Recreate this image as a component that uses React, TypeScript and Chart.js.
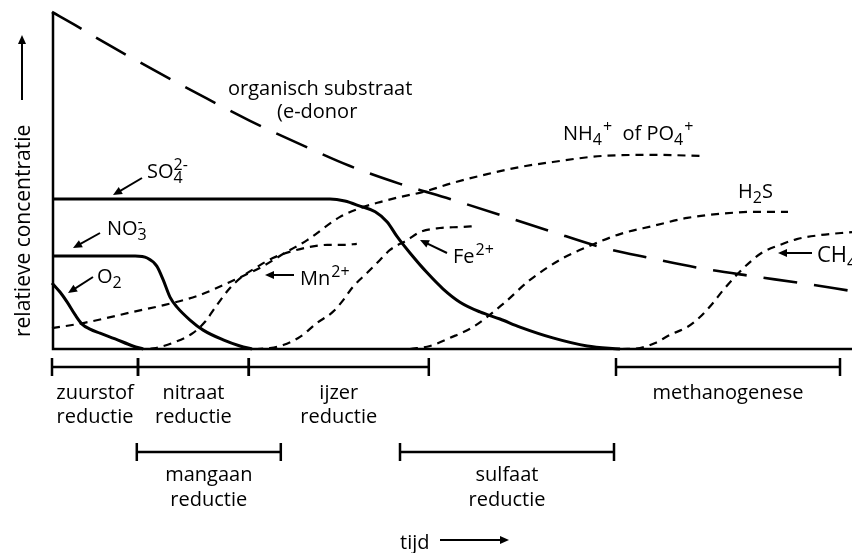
import React, { useEffect, useRef } from "react";
import { Chart, registerables } from "chart.js";

Chart.register(...registerables);

const FONT = '"Open Sans", "DejaVu Sans", sans-serif';

// ---- data (x = tijd 0..100, y = relatieve concentratie 0..100) ----
const organischX = [0, 2.9, 6, 12.25, 18.5, 24.75, 31, 37.25, 43.5, 49.75, 56, 62.25, 68.5, 74.75, 81, 87.25, 93.5, 100];
const organischY = [100, 96.1, 91.7, 83.4, 75.4, 67.7, 60.8, 54.3, 49, 44.5, 39.8, 35, 30.3, 27, 24, 21.7, 19.6, 17.2];

const so4X = [0, 34.75, 36.6, 38.5, 40.4, 41.9, 43.1, 44.75, 46.9, 48.9, 51, 53.5, 56, 58.5, 62.6, 66.9, 71];
const so4Y = [44.5, 44.5, 43.9, 42.4, 40.7, 37.7, 33.5, 28.5, 22.6, 17.8, 13.9, 11, 8.9, 6.5, 3.3, 0.9, 0];

const no3X = [0, 10.4, 11.9, 13.1, 13.9, 14.75, 15.6, 17.25, 18.9, 21.4, 23.5, 25];
const no3Y = [27.6, 27.6, 27, 24.6, 20.5, 15.4, 12.5, 8.6, 5.6, 2.7, 0.9, 0];

const o2X = [0, 1, 1.9, 2.9, 3.75, 4.75, 6, 7.9, 10.1, 11.4];
const o2Y = [19.6, 16.9, 13.9, 10.1, 7.4, 5.9, 4.7, 3, 0.9, 0];

const nh4X = [0, 3.9, 10.1, 14.1, 18.1, 22.25, 26.4, 29.1, 31.9, 36, 38.5, 41, 43.5, 46.4, 50.1, 54.4, 58.5, 62.6, 68.9, 75.1, 81.25];
const nh4Y = [6.2, 7.7, 11, 13.1, 15.7, 19.9, 24.6, 28.5, 32.3, 39.2, 41.8, 43.6, 45.1, 46.6, 49.3, 51.9, 54, 55.5, 57.3, 57.6, 57.3];

const mnX = [12.25, 13.5, 15.1, 17.6, 19.1, 20.6, 22.25, 23.9, 25.6, 27.6, 30.1, 32.25, 34.4, 36.6, 38.1];
const mnY = [0, 0.6, 1.8, 4.7, 8, 13, 18.1, 21.7, 24.3, 27, 29.1, 30.3, 30.9, 30.9, 31.2];

const feX = [25.4, 27.25, 28.9, 31, 33.1, 35.1, 36.4, 37.6, 39.4, 41, 42.25, 44.4, 46, 48.5, 51, 53.1];
const feY = [0, 0.3, 1.2, 3.6, 7.7, 11, 14.5, 18.4, 22.6, 26.4, 29.4, 32.3, 34.7, 35.9, 36.2, 36.5];

const h2sX = [44.75, 47.25, 49.75, 52.6, 56.4, 59.75, 63.9, 66.9, 71, 75.1, 79.4, 83.5, 87.6, 92];
const h2sY = [0, 0.9, 3.3, 6.5, 13.4, 20.5, 27, 30.3, 34.1, 36.5, 38.9, 40.1, 40.7, 40.7];

const ch4X = [71.25, 73.5, 75.4, 77.25, 79.4, 81, 82.6, 83.9, 85.6, 87.25, 88.9, 91, 93.1, 96, 100];
const ch4Y = [0, 0.3, 1.8, 4.2, 6.5, 9.5, 13.6, 17.5, 22, 25.8, 28.8, 30.9, 32.6, 33.8, 34.7];

// reductie-fasen
const phaseLine1 = ["zuurstof", "nitraat", "ijzer", "mangaan", "sulfaat", "methanogenese"];
const phaseLine2 = ["reductie", "reductie", "reductie", "reductie", "reductie", ""];
const phaseStart = [0, 10.75, 24.6, 10.6, 43.5, 70.5];
const phaseEnd = [10.75, 24.6, 47.1, 28.6, 70.25, 98.5];
const phaseRow = [1, 1, 1, 2, 2, 1];

const yTitle = "relatieve concentratie";
const xTitle = "tijd";

type Part = [string, string];

function richText(ctx: CanvasRenderingContext2D, x: number, y: number, parts: Part[], size = 20) {
  let cx = x;
  let subStart = x;
  let subEnd = x;
  const small = Math.round(size * 0.78);
  for (const [t, k] of parts) {
    if (k === "n") {
      ctx.font = `${size}px ${FONT}`;
      ctx.fillText(t, cx, y);
      cx += ctx.measureText(t).width;
    } else if (k === "b") {
      ctx.font = `${small}px ${FONT}`;
      const w = ctx.measureText(t).width;
      subStart = cx;
      ctx.fillText(t, cx, y + size * 0.27);
      cx += w;
      subEnd = cx;
    } else if (k === "p") {
      ctx.font = `${small}px ${FONT}`;
      const w = ctx.measureText(t).width;
      ctx.fillText(t, cx + 1, y - size * 0.42);
      cx += w + 1;
    } else if (k === "ps") {
      ctx.font = `${small}px ${FONT}`;
      const w = ctx.measureText(t).width;
      ctx.fillText(t, subStart, y - size * 0.42);
      cx = Math.max(subEnd, subStart + w);
    }
  }
}

function arrow(ctx: CanvasRenderingContext2D, x1: number, y1: number, x2: number, y2: number) {
  const a = Math.atan2(y2 - y1, x2 - x1);
  const L = 9;
  const W = 4;
  ctx.beginPath();
  ctx.moveTo(x1, y1);
  ctx.lineTo(x2 - Math.cos(a) * L * 0.6, y2 - Math.sin(a) * L * 0.6);
  ctx.stroke();
  ctx.beginPath();
  ctx.moveTo(x2, y2);
  ctx.lineTo(x2 - Math.cos(a) * L - Math.sin(a) * W, y2 - Math.sin(a) * L + Math.cos(a) * W);
  ctx.lineTo(x2 - Math.cos(a) * L + Math.sin(a) * W, y2 - Math.sin(a) * L - Math.cos(a) * W);
  ctx.closePath();
  ctx.fill();
}

const annotPlugin = {
  id: "annot",
  beforeDraw(chart: any) {
    const ctx = chart.ctx;
    ctx.save();
    ctx.fillStyle = "#fff";
    ctx.fillRect(0, 0, chart.width, chart.height);
    ctx.restore();
  },
  beforeDatasetsDraw(chart: any) {
    const ctx = chart.ctx as CanvasRenderingContext2D;
    const xs = chart.scales.x;
    const ys = chart.scales.y;
    ctx.save();
    ctx.strokeStyle = "#000";
    ctx.lineWidth = 2.5;
    ctx.beginPath();
    ctx.moveTo(xs.getPixelForValue(0) + 1, ys.getPixelForValue(100));
    ctx.lineTo(xs.getPixelForValue(0) + 1, ys.getPixelForValue(0));
    ctx.lineTo(xs.getPixelForValue(100), ys.getPixelForValue(0));
    ctx.stroke();
    ctx.restore();
  },
  afterDraw(chart: any) {
    const ctx = chart.ctx as CanvasRenderingContext2D;
    const xs = chart.scales.x;
    ctx.save();
    ctx.fillStyle = "#000";
    ctx.strokeStyle = "#000";
    ctx.textBaseline = "alphabetic";

    // phase bars
    const rowY: Record<number, number> = { 1: 367, 2: 452 };
    const rowText: Record<number, [number, number]> = { 1: [399, 423], 2: [481, 506] };
    for (let i = 0; i < phaseLine1.length; i++) {
      const y = rowY[phaseRow[i]];
      const a = xs.getPixelForValue(phaseStart[i]);
      const b = xs.getPixelForValue(phaseEnd[i]);
      ctx.lineWidth = 2.5;
      ctx.beginPath();
      ctx.moveTo(a, y);
      ctx.lineTo(b, y);
      ctx.moveTo(a, y - 9);
      ctx.lineTo(a, y + 9);
      ctx.moveTo(b, y - 9);
      ctx.lineTo(b, y + 9);
      ctx.stroke();
      const c = (a + b) / 2;
      ctx.font = `20px ${FONT}`;
      ctx.textAlign = "center";
      const [t1, t2] = rowText[phaseRow[i]];
      ctx.fillText(phaseLine1[i], c, t1);
      if (phaseLine2[i]) ctx.fillText(phaseLine2[i], c, t2);
    }
    ctx.textAlign = "left";

    // curve labels
    ctx.font = `20px ${FONT}`;
    ctx.fillText("organisch substraat", 228, 95);
    ctx.fillText("(e-donor", 277, 118);
    richText(ctx, 147, 178, [["SO", "n"], ["4", "b"], ["2-", "ps"]]);
    richText(ctx, 107, 235, [["NO", "n"], ["3", "b"], ["-", "ps"]]);
    richText(ctx, 97, 283, [["O", "n"], ["2", "b"]]);
    richText(ctx, 300, 285, [["Mn", "n"], ["2+", "p"]]);
    richText(ctx, 453, 263, [["Fe", "n"], ["2+", "p"]]);
    richText(ctx, 563, 140, [["NH", "n"], ["4", "b"], ["+", "p"], ["  of PO", "n"], ["4", "b"], ["+", "p"]]);
    richText(ctx, 738, 198, [["H", "n"], ["2", "b"], ["S", "n"]]);
    richText(ctx, 817, 262, [["CH", "n"], ["4", "b"]], 22);

    // label arrows
    ctx.lineWidth = 2;
    arrow(ctx, 142, 178, 113, 195);
    arrow(ctx, 100, 233, 73, 248);
    arrow(ctx, 93, 277, 68, 293);
    arrow(ctx, 294, 275, 265, 275);
    arrow(ctx, 447, 253, 420, 240);
    arrow(ctx, 812, 253, 778, 253);

    // axis titles
    ctx.save();
    ctx.translate(30, 337);
    ctx.rotate(-Math.PI / 2);
    ctx.font = `21px ${FONT}`;
    ctx.fillText(yTitle, 0, 0);
    ctx.restore();
    arrow(ctx, 22, 100, 22, 35);

    ctx.font = `20px ${FONT}`;
    ctx.fillText(xTitle, 400, 549);
    arrow(ctx, 440, 540, 509, 540);

    ctx.restore();
  },
};

function series(xs: number[], ys: number[], width: number, dash: number[]) {
  return {
    data: xs.map((x, i) => ({ x, y: ys[i] })),
    borderColor: "#000",
    borderWidth: width,
    borderDash: dash,
    cubicInterpolationMode: "monotone" as const,
    fill: false,
    pointRadius: 0,
    clip: 8,
  };
}

export default function App() {
  const ref = useRef<HTMLCanvasElement | null>(null);
  useEffect(() => {
    if (!ref.current) return;
    const chart = new Chart(ref.current, {
      type: "line",
      data: {
        datasets: [
          series(organischX, organischY, 2.6, [34, 17]),
          series(nh4X, nh4Y, 2.2, [8, 6]),
          series(mnX, mnY, 2.2, [8, 6]),
          series(feX, feY, 2.2, [8, 6]),
          series(h2sX, h2sY, 2.2, [8, 6]),
          series(ch4X, ch4Y, 2.2, [8, 6]),
          series(so4X, so4Y, 3, []),
          series(no3X, no3Y, 3, []),
          series(o2X, o2Y, 3, []),
        ] as any,
      },
      options: {
        animation: false,
        responsive: false,
        devicePixelRatio: 1,
        layout: { padding: { left: 52, right: 0, top: 12, bottom: 204 } },
        scales: {
          x: { type: "linear", min: 0, max: 100, display: false },
          y: { type: "linear", min: 0, max: 100, display: false },
        },
        plugins: { legend: { display: false }, tooltip: { enabled: false } },
        elements: { point: { radius: 0 } },
      },
      plugins: [annotPlugin],
    });
    return () => chart.destroy();
  }, []);
  return (
    <div style={{ position: "fixed", left: 0, top: 0, width: 852, height: 553, background: "#fff" }}>
      <canvas ref={ref} width={852} height={553} style={{ width: 852, height: 553, display: "block" }} />
    </div>
  );
}
